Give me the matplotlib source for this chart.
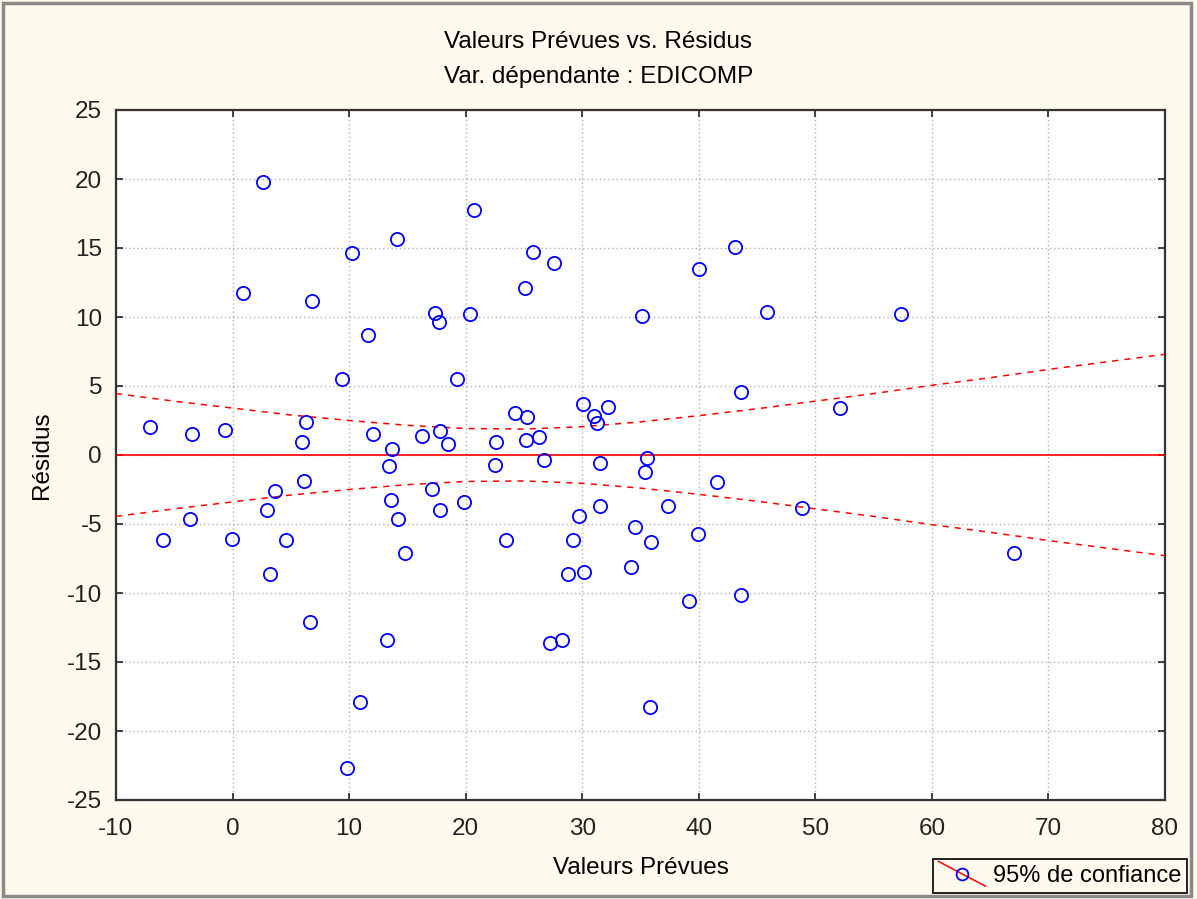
import numpy as np
import matplotlib
matplotlib.use("Agg")
import matplotlib.pyplot as plt
from matplotlib.lines import Line2D
from matplotlib.patches import Rectangle
from matplotlib.legend_handler import HandlerBase

plt.rcParams['font.family'] = ['Liberation Sans', 'DejaVu Sans']
plt.rcParams['axes.unicode_minus'] = False

# valeurs
pred = [-7.08, -5.94, -3.51, -3.65, -0.65, -0.05, 0.90, 2.64, 2.95, 3.24,
        3.64, 4.61, 5.98, 6.27, 6.13, 6.82, 6.67, 9.41, 9.79, 10.25,
        10.96, 11.62, 12.02, 13.40, 13.28, 13.57, 13.68, 14.08, 14.22, 14.77,
        16.25, 17.11, 17.37, 17.69, 17.77, 17.80, 18.48, 19.28, 19.88, 20.40,
        20.69, 22.60, 22.49, 23.46, 24.23, 25.23, 25.11, 25.20, 25.75, 26.32,
        26.72, 27.26, 27.58, 28.26, 28.78, 29.23, 29.75, 30.04, 30.18, 30.98,
        31.27, 31.52, 31.55, 32.24, 34.55, 34.16, 35.13, 35.38, 35.53, 35.79,
        35.90, 37.33, 39.19, 39.91, 40.04, 41.56, 43.11, 43.65, 43.65, 45.85,
        48.83, 52.14, 57.37, 67.04]
resid = [2.05, -6.16, 1.52, -4.66, 1.81, -6.07, 11.72, 19.76, -3.96, -8.62,
         -2.59, -6.16, 0.92, 2.41, -1.88, 11.14, -12.10, 5.49, -22.68, 14.64,
         -17.92, 8.70, 1.50, -0.82, -13.41, -3.26, 0.43, 15.67, -4.66, -7.10,
         1.38, -2.44, 10.27, 9.62, 1.74, -3.96, 0.80, 5.49, -3.38, 10.22,
         17.78, 0.92, -0.70, -6.16, 3.02, 2.78, 12.08, 1.07, 14.73, 1.28,
         -0.36, -13.60, 13.93, -13.41, -8.62, -6.16, -4.44, 3.72, -8.50, 2.83,
         2.32, -0.60, -3.72, 3.50, -5.24, -8.14, 10.09, -1.21, -0.20, -18.24,
         -6.30, -3.72, -10.60, -5.70, 13.48, -1.98, 15.09, 4.54, -10.12, 10.34,
         -3.84, 3.38, 10.23, -7.09]

band_x = [-10, -5, 0, 5, 10, 15, 20, 25, 30, 35, 40, 45, 50, 55, 60, 65, 70, 75, 80]
band_hi = [4.45, 3.9, 3.4, 2.9, 2.5, 2.15, 1.92, 1.88, 2.05, 2.4, 2.85, 3.35,
           3.9, 4.45, 5.05, 5.6, 6.2, 6.75, 7.3]
band_lo = [-4.45, -3.9, -3.4, -2.9, -2.5, -2.15, -1.92, -1.88, -2.05, -2.4, -2.85, -3.35,
           -3.9, -4.45, -5.05, -5.6, -6.2, -6.75, -7.3]
fit_x = [-10, 80]
fit_y = [0, 0]

bg = '#fefaee'
fig = plt.figure(figsize=(11.97, 8.99), dpi=100, facecolor=bg)
ax = fig.add_axes([116/1197, 1-800/899, (1165-116)/1197, (800-110)/899])
ax.set_facecolor('white')

ax.plot(fit_x, fit_y, color='red', lw=1.2, zorder=3)
ax.plot(band_x, band_hi, color='red', lw=1.1, ls=(0, (4, 4)), zorder=3)
ax.plot(band_x, band_lo, color='red', lw=1.1, ls=(0, (4, 4)), zorder=3)
ax.plot(pred, resid, ls='none', marker='o', ms=9.5, mfc='none', mec='blue', mew=1.3, zorder=4)

ax.set_xlim(-10, 80)
ax.set_ylim(-25, 25)
ax.set_xticks(range(-10, 81, 10))
ax.set_yticks(range(-25, 26, 5))
ax.grid(True, color='#b0b0b0', ls=(0, (1, 2)), lw=1)
ax.tick_params(direction='in', length=5, width=1.2, top=True, right=True,
               labelsize=17.5, pad=10, colors='#222222')
ax.tick_params(axis='x', pad=13)
for s in ax.spines.values():
    s.set_linewidth(1.6)
    s.set_color('#333333')

ax.set_xlabel('Valeurs Prévues', fontsize=17.5, labelpad=12)
ax.set_ylabel('Résidus', fontsize=17.5, labelpad=10)

fig.text(0.5, 1-42/899, 'Valeurs Prévues vs. Résidus', ha='center', va='center', fontsize=17.5)
fig.text(0.5, 1-77/899, 'Var. dépendante : EDICOMP', ha='center', va='center', fontsize=17.5)

# cadre extérieur
fig.patches.append(Rectangle((3/1197, 3/899), 1188/1197, 893/899, transform=fig.transFigure,
                             fill=False, edgecolor='#8a8a8a', lw=2.5))


class DiagHandler(HandlerBase):
    def create_artists(self, legend, orig_handle, xdescent, ydescent, width, height, fontsize, trans):
        ln = Line2D([-xdescent, width - xdescent], [height + 3 - ydescent, -3 - ydescent],
                    color='red', lw=1.1, transform=trans)
        mk = Line2D([width / 2 - xdescent], [height / 2 - ydescent], marker='o', ms=8.5,
                    mfc='none', mec='blue', mew=1.3, ls='none', transform=trans)
        return [ln, mk]


h = Line2D([], [])
leg = fig.legend([h], ['95% de confiance'], handler_map={Line2D: DiagHandler()},
                 loc='lower right', bbox_to_anchor=(1187/1197, 6/899),
                 fontsize=17, frameon=True, fancybox=False, borderpad=0.25,
                 handlelength=2.0, handletextpad=0.3, borderaxespad=0)
leg.get_frame().set_edgecolor('#222222')
leg.get_frame().set_linewidth(1.4)
leg.get_frame().set_facecolor(bg)
leg.get_frame().set_alpha(1)

fig.savefig('out.png', dpi=100, facecolor=bg)
